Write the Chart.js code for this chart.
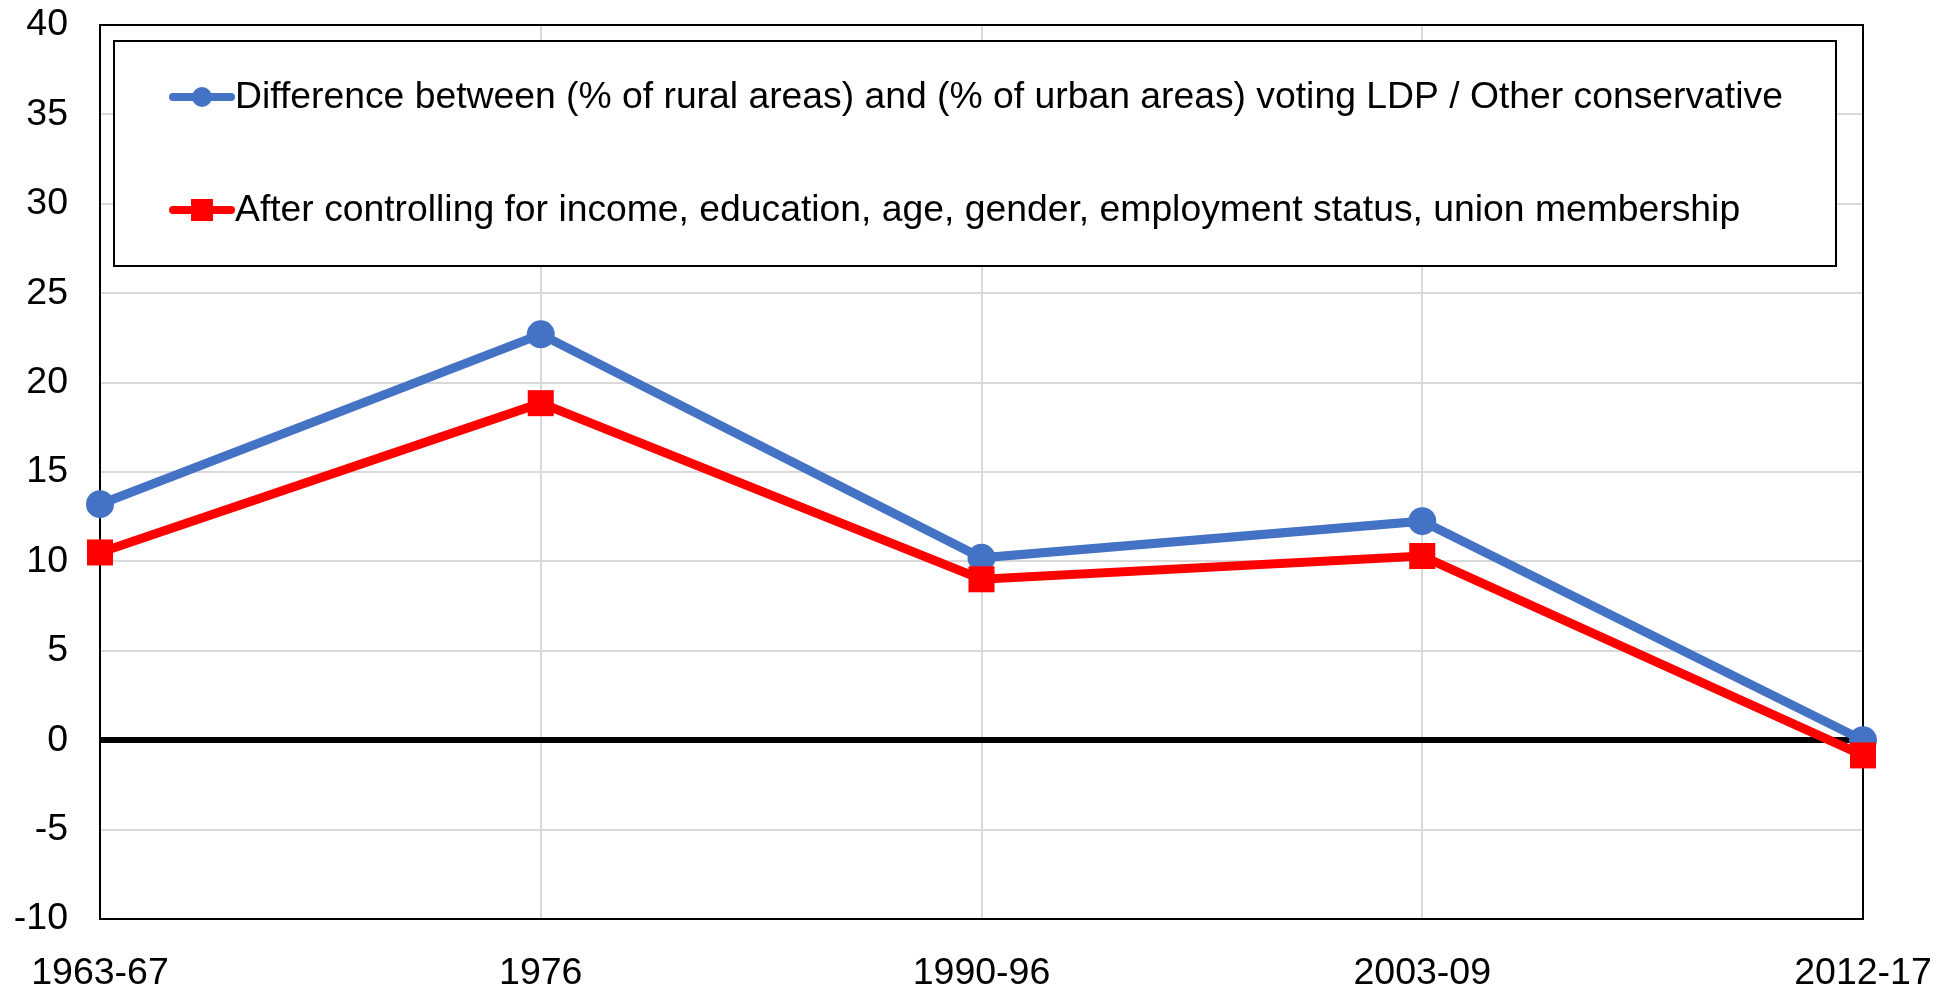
<!DOCTYPE html>
<html>
<head>
<meta charset="utf-8">
<title>Rural-urban gap, LDP vote</title>
<script src="https://cdn.jsdelivr.net/npm/chart.js@4"></script>
<style>
  html, body { margin: 0; padding: 0; background: #fff; }
  #wrap { width: 1955px; height: 992px; }
</style>
</head>
<body>
<div id="wrap"><canvas id="grafico"></canvas></div>
<script>
// Data
const periods = ["1963-67", "1976", "1990-96", "2003-09", "2012-17"];
const ruralGap = [13.2, 22.7, 10.2, 12.25, 0.0];
const ruralGapControlled = [10.5, 18.85, 9.0, 10.3, -0.85];
const seriesNames = [
  "Difference between (% of rural areas) and (% of urban areas) voting LDP / Other conservative",
  "After controlling for income, education, age, gender, employment status, union membership"
];
const yTicks = [-10, -5, 0, 5, 10, 15, 20, 25, 30, 35, 40];

const FONT = "'Liberation Sans', Arial, sans-serif";
const BLUE = "#4472C4";
const RED = "#FF0000";

// Black frame round the plot, under the lines
const plotFrame = {
  id: "plotFrame",
  beforeDatasetsDraw(chart) {
    const a = chart.chartArea;
    const ctx = chart.ctx;
    ctx.save();
    ctx.strokeStyle = "#000";
    ctx.lineWidth = 2;
    ctx.strokeRect(a.left, a.top, a.right - a.left, a.bottom - a.top);
    ctx.restore();
  }
};

// Legend drawn as a white box inside the plot
const boxLegend = {
  id: "boxLegend",
  afterDraw(chart) {
    const a = chart.chartArea;
    const ctx = chart.ctx;
    const x0 = a.left + 14, y0 = a.top + 16;
    const x1 = a.right - 27, y1 = a.top + 241;
    ctx.save();
    ctx.fillStyle = "#fff";
    ctx.fillRect(x0, y0, x1 - x0, y1 - y0);
    ctx.strokeStyle = "#000";
    ctx.lineWidth = 2;
    ctx.strokeRect(x0, y0, x1 - x0, y1 - y0);

    const rows = [a.top + 72, a.top + 185];
    chart.data.datasets.forEach((ds, i) => {
      const y = rows[i];
      ctx.strokeStyle = ds.borderColor;
      ctx.lineWidth = 8;
      ctx.lineCap = "round";
      ctx.beginPath();
      ctx.moveTo(a.left + 73, y);
      ctx.lineTo(a.left + 131, y);
      ctx.stroke();
      ctx.fillStyle = ds.borderColor;
      if (ds.pointStyle === "rect") {
        ctx.fillRect(a.left + 102 - 11, y - 11, 22, 22);
      } else {
        ctx.beginPath();
        ctx.arc(a.left + 102, y, 10, 0, Math.PI * 2);
        ctx.fill();
      }
      ctx.fillStyle = "#000";
      ctx.font = "37.3px " + FONT;
      ctx.textBaseline = "middle";
      ctx.textAlign = "left";
      ctx.fillText(ds.label, a.left + 135, y + 1);
    });
    ctx.restore();
  }
};

const chart = new Chart(document.getElementById("grafico"), {
  type: "line",
  data: {
    labels: periods,
    datasets: [
      {
        label: seriesNames[0],
        data: ruralGap,
        borderColor: BLUE,
        backgroundColor: BLUE,
        borderWidth: 9,
        pointStyle: "circle",
        pointRadius: 14,
        pointBorderWidth: 0,
        order: 1,
        clip: false
      },
      {
        label: seriesNames[1],
        data: ruralGapControlled,
        borderColor: RED,
        backgroundColor: RED,
        borderWidth: 9,
        pointStyle: "rect",
        pointRadius: 18.4,
        pointBorderWidth: 0,
        order: 0,
        clip: false
      }
    ]
  },
  options: {
    responsive: true,
    maintainAspectRatio: false,
    animation: false,
    events: [],
    layout: { padding: { left: 0, top: 25, right: 92, bottom: 0 } },
    plugins: {
      legend: { display: false },
      tooltip: { enabled: false }
    },
    scales: {
      x: {
        offset: false,
        border: { display: false },
        grid: { color: "#d9d9d9", lineWidth: 2, drawTicks: false },
        ticks: {
          color: "#000",
          padding: 32,
          maxRotation: 0,
          autoSkip: false,
          font: { family: FONT, size: 37.5 }
        },
        afterFit(scale) {
          scale.height = 73;
          scale.paddingLeft = 0;
          scale.paddingRight = 0;
        }
      },
      y: {
        min: -10,
        max: 40,
        border: { display: false },
        grid: {
          color: (c) => (c.tick && c.tick.value === 0 ? "#000" : "#d9d9d9"),
          lineWidth: (c) => (c.tick && c.tick.value === 0 ? 6 : 2),
          drawTicks: false
        },
        ticks: {
          color: "#000",
          padding: 32,
          font: { family: FONT, size: 37.5 }
        },
        afterBuildTicks(scale) { scale.ticks = yTicks.map(v => ({ value: v })); },
        afterFit(scale) {
          scale.width = 100;
          scale.paddingTop = 0;
          scale.paddingBottom = 0;
        }
      }
    }
  },
  plugins: [plotFrame, boxLegend]
});
</script>
</body>
</html>
